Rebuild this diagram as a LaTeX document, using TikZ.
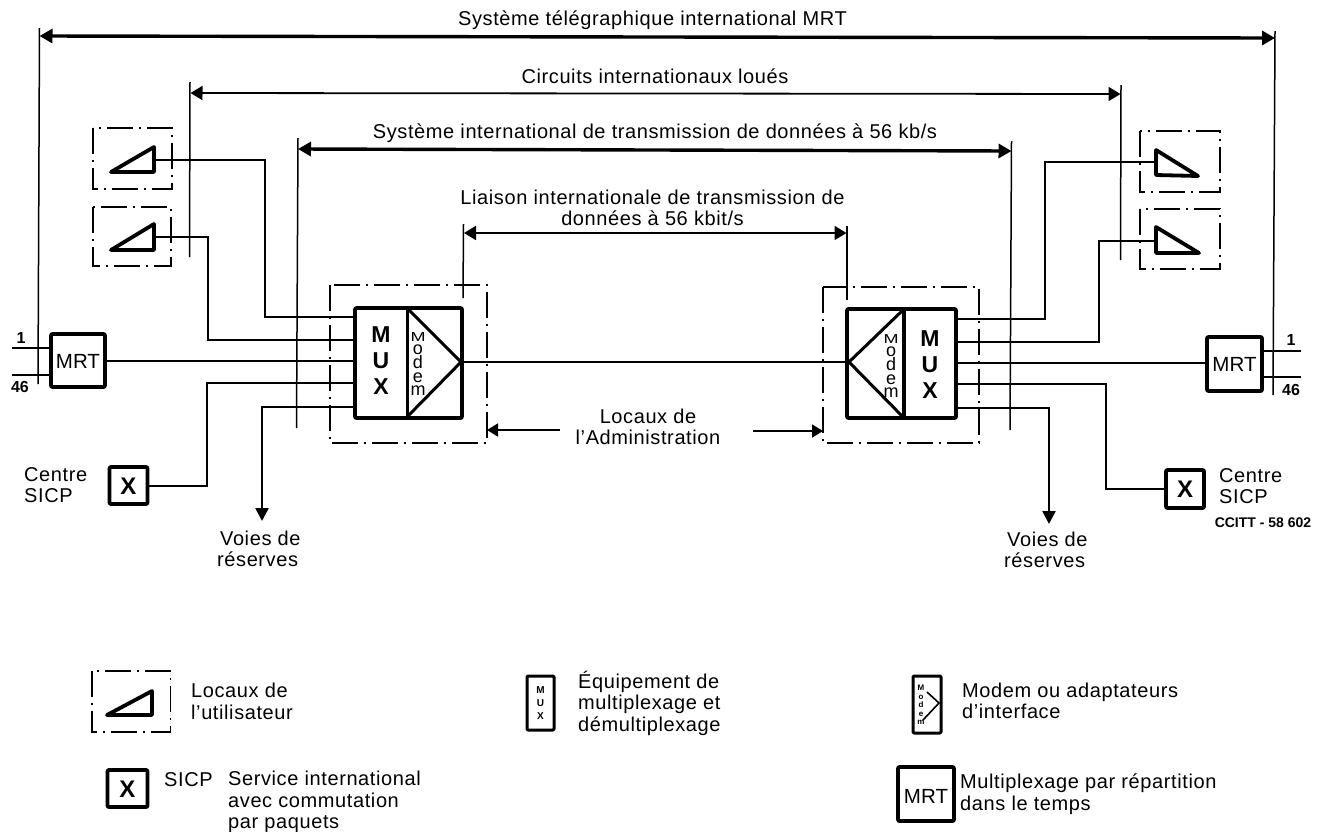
\documentclass[tikz,border=0pt]{standalone}
\usepackage{fontspec}
\usetikzlibrary{arrows.meta}
\setmainfont{Liberation Sans}
\newfontfamily\spaced[LetterSpace=3]{Liberation Sans}
\newcommand{\myfs}[2]{\fontsize{#1}{#2}\selectfont}
\tikzset{
  x=1pt,y=-1pt,
  thinl/.style={line width=1.5pt},
  wire/.style={line width=2.5pt,line join=miter},
  dimthin/.style={line width=1.8pt,{Triangle[length=12pt,width=14pt]}-{Triangle[length=12pt,width=14pt]},shorten <=0.5pt,shorten >=0.5pt},
  dimone/.style={line width=1.8pt,-{Triangle[length=11pt,width=13pt]}},
  dimthick/.style={line width=3.4pt,{Triangle[length=13pt,width=14pt]}-{Triangle[length=13pt,width=14pt]}},
  dashbox/.style={line width=1.3pt,dash pattern=on 26pt off 6pt on 2pt off 6pt},
  heavy/.style={draw,line width=3.6pt,line join=round},
  box/.style={heavy,inner sep=0pt,outer sep=0pt,rounded corners=1pt},
  tri/.style={draw,line width=3.8pt,line join=round,fill=white},
  diag/.style={line width=3pt},
  lab/.style={inner sep=0pt,font=\spaced\myfs{20}{21.5}},
  labl/.style={lab,align=left},
  labc/.style={lab,align=center},
  outtip/.style={wire,-{Triangle[length=13pt,width=13pt]}},
  muxl/.style={inner sep=0pt,align=center,font=\bfseries\myfs{23}{26}},
  modl/.style={inner sep=0pt,align=center,font=\myfs{18}{13.2}},
  xmark/.style={inner sep=0pt,font=\bfseries\myfs{24}{26}},
  mrtl/.style={inner sep=0pt,font=\myfs{20.5}{22}},
}
\begin{document}
\begin{tikzpicture}
\useasboundingbox (0,0) rectangle (1317,831);
\fill[white] (0,0) rectangle (1317,831);

% dimension-line feet
\coordinate (a1t) at (39.5,28);  \coordinate (a1b) at (38,384);
\coordinate (a2t) at (1275,31);  \coordinate (a2b) at (1273,395);
\coordinate (b1t) at (190,82);   \coordinate (b1b) at (189.5,257);
\coordinate (b2t) at (1121,85);  \coordinate (b2b) at (1120.5,260);
\coordinate (c1t) at (298,138);  \coordinate (c1b) at (296.5,428);
\coordinate (c2t) at (1011.5,141); \coordinate (c2b) at (1010,430);
\coordinate (d1t) at (463.5,224); \coordinate (d1b) at (463,298);
\coordinate (d2t) at (847,226);  \coordinate (d2b) at (847,300);

\draw[thinl] (a1t)--(a1b); \draw[thinl] (a2t)--(a2b);
\draw[thinl] (b1t)--(b1b); \draw[thinl] (b2t)--(b2b);
\draw[thinl] (c1t)--(c1b); \draw[thinl] (c2t)--(c2b);
\draw[thinl] (d1t)--(d1b); \draw[thinl] (d2t)--(d2b);

% premises boxes
\draw[dashbox] (93,128) rectangle (172,189);
\draw[dashbox] (93,207) rectangle (171,266);
\draw[dashbox] (1140,131) rectangle (1220,192);
\draw[dashbox] (1140,209) rectangle (1220,269);
\draw[dashbox] (330,285) rectangle (487,443);
\draw[dashbox] (823,287) rectangle (979,443);

% main boxes
\node[box,minimum width=107pt,minimum height=110pt] (muxL) at (408.5,363) {};
\node[box,minimum width=109pt,minimum height=109pt] (muxR) at (901.5,363.5) {};
\node[box,minimum width=54pt,minimum height=53pt] (mrtL) at (78,360.5) {};
\node[box,minimum width=55pt,minimum height=54pt] (mrtR) at (1234.5,364) {};
\node[box,minimum width=38pt,minimum height=37pt] (sicpL) at (128.5,485.5) {};
\node[box,minimum width=38pt,minimum height=38pt] (sicpR) at (1185,489) {};

\node[mrtl] (mrtLt) at (78,361) {MRT};
\node[mrtl] (mrtRt) at (1234.5,364) {MRT};
\node[xmark] (xL) at (128.5,486) {X};
\node[xmark] (xR) at (1185,489) {X};

\draw[heavy] (407.5,308)--(407.5,418);
\draw[heavy] (904,309)--(904,418);
\draw[diag] (409,310)--(461,362)--(408,416);
\draw[diag] (903,310)--(849,362)--(903,417);

\node[muxl] (muxLt) at (381,361) {M\\U\\X};
\node[muxl] (muxRt) at (930,365) {M\\U\\X};
\node[modl] (modL) at (418,364) {\scalebox{1}[.72]{M}\\o\\d\\e\\m};
\node[modl] (modR) at (891,366) {\scalebox{1}[.72]{M}\\o\\d\\e\\m};

% user triangles
\draw[tri] (111,172)--(154,147)--(154,172)--cycle;
\draw[tri] (111,250)--(154,224)--(154,250)--cycle;
\draw[tri] (1198,176)--(1156,150)--(1156,175)--cycle;
\draw[tri] (1199,253)--(1156,227)--(1156,253)--cycle;
\coordinate (t1) at (155.8,160); \coordinate (t2) at (155.8,237);
\coordinate (t3) at (1154.2,162); \coordinate (t4) at (1154.2,241);

% wires
\draw[wire] (t1) -| (265,317) -- (muxL.west |- 0,317);
\draw[wire] (t2) -| (208,340) -- (muxL.west |- 0,340);
\draw[wire] (mrtL.east |- 0,361) -- (muxL.west |- 0,361);
\draw[wire] (sicpL.east |- 0,486) -| (207,383) -- (muxL.west |- 0,383);
\coordinate (vL) at (262,521);
\draw[outtip] (muxL.west |- 0,407) -| (vL);
\draw[wire] (muxL.east |- 0,362) -- (muxR.west |- 0,362);
\draw[wire] (t3) -| (1045,319) -- (muxR.east |- 0,319);
\draw[wire] (t4) -| (1099,342) -- (muxR.east |- 0,342);
\draw[wire] (muxR.east |- 0,363) -- (mrtR.west |- 0,363);
\draw[wire] (sicpR.west |- 0,489) -| (1106,384) -- (muxR.east |- 0,384);
\coordinate (vR) at (1049,524);
\draw[outtip] (muxR.east |- 0,408) -| (vR);

% MRT tails
\coordinate (m1) at (12,348); \coordinate (m2) at (12,375);
\coordinate (m3) at (1301,351); \coordinate (m4) at (1301,377);
\draw[wire] (m1) -- (mrtL.west |- m1);
\draw[wire] (m2) -- (mrtL.west |- m2);
\draw[wire] (m3) -- (mrtR.east |- m3);
\draw[wire] (m4) -- (mrtR.east |- m4);
\node[inner sep=0pt,font=\bfseries\myfs{16}{18}] (n1L) at (21,338) {1};
\node[inner sep=0pt,font=\bfseries\myfs{16}{18}] (n46L) at (20,387) {46};
\node[inner sep=0pt,font=\bfseries\myfs{16}{18}] (n1R) at (1291,340) {1};
\node[inner sep=0pt,font=\bfseries\myfs{16}{18}] (n46R) at (1291,390) {46};

% dimension arrows
\draw[dimthick] (a1t |- 0,36) -- (a2t |- 0,38);
\draw[dimthin] (b1t |- 0,93) -- (b2t |- 0,94);
\draw[dimthick] (c1t |- 0,149) -- (c2t |- 0,151);
\draw[dimthin] (d1t |- 0,233) -- (d2t |- 0,233);
\coordinate (e1) at (560,430); \coordinate (e2) at (753,431);
\coordinate (e3) at (487,430); \coordinate (e4) at (823,431);
\draw[dimone] (e1) -- (e3);
\draw[dimone] (e2) -- (e4);

% labels
\node[lab] (L1) at (652.5,20) {Système télégraphique international MRT};
\node[lab] (L2) at (655,76) {Circuits internationaux loués};
\node[lab] (L3) at (655,133) {Système international de transmission de données à 56 kb/s};
\node[labc] (L4) at (652.5,208) {Liaison internationale de transmission de\\données à 56 kbit/s};
\node[labc] (L5) at (648,427) {Locaux de\\l’Administration};
\node[labl,anchor=west] (L6) at (24,485) {Centre\\SICP};
\node[labl,anchor=west] (L7) at (1219,486) {Centre\\SICP};
\node[labl,anchor=west] (L8) at (217,549) {\hspace*{3pt}Voies de\\réserves};
\node[labl,anchor=west] (L9) at (1004,550) {\hspace*{3pt}Voies de\\réserves};
\node[inner sep=0pt,font=\bfseries\myfs{14}{16}] (L10) at (1263,523) {CCITT - 58 602};

% legend
\draw[dashbox] (92,671) rectangle (170.5,732);
\draw[tri] (107,715)--(152,691)--(152,715)--cycle;
\node[labl,anchor=west] (k1) at (191,701.5) {Locaux de\\l’utilisateur};

\node[box,line width=3pt,minimum width=27pt,minimum height=54pt] (k2) at (540.5,703) {};
\node[inner sep=0pt,align=center,font=\bfseries\myfs{10}{13}] (k2t) at (540.5,703) {M\\U\\X};
\node[labl,anchor=west] (k3) at (578,703) {Équipement de\\multiplexage et\\démultiplexage};

\node[box,line width=3pt,minimum width=28pt,minimum height=57pt] (k4) at (927,704.5) {};
\node[inner sep=0pt,align=center,font=\bfseries\myfs{8}{8.6}] (k4t) at (921,705) {M\\o\\d\\e\\m};
\draw[line width=1.6pt] (927,692)--(939,703)--(923,720);
\node[labl,anchor=west] (k5) at (962,701) {Modem ou adaptateurs\\d’interface};

\node[box,minimum width=40pt,minimum height=37pt] (k6) at (127.5,788.5) {};
\node[xmark] (k6t) at (127.5,789) {X};
\node[lab,anchor=west] (k7) at (164,780) {SICP};
\node[labl,anchor=north west] (k8) at (228,771) {Service international\\avec commutation\\par paquets};

\node[box,minimum width=56pt,minimum height=54pt] (k9) at (926,794) {};
\node[mrtl] (k9t) at (926,796) {MRT};
\node[labl,anchor=west] (k10) at (960,794) {Multiplexage par répartition\\dans le temps};
\end{tikzpicture}
\end{document}
